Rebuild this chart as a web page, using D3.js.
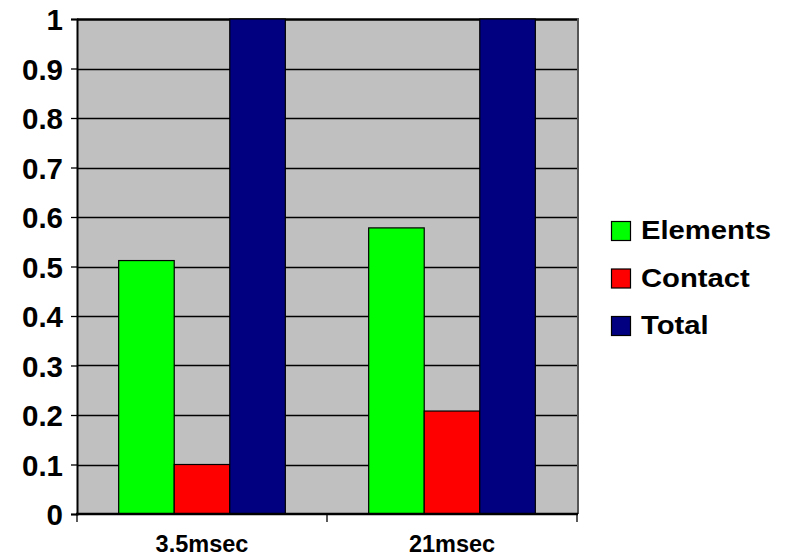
<!DOCTYPE html>
<html>
<head>
<meta charset="utf-8">
<script src="https://cdn.jsdelivr.net/npm/d3@7/dist/d3.min.js"></script>
<style>
  html, body { margin: 0; padding: 0; background: #ffffff; }
  svg { display: block; }
  text { font-family: "Liberation Sans", Arial, sans-serif; font-weight: bold; fill: #000; }
</style>
</head>
<body>
<svg id="chart" width="795" height="557"></svg>
<script>
// Timing categories and per-series normalized values
const categories = ["3.5msec", "21msec"];
const seriesNames = ["Elements", "Contact", "Total"];
const elementsValues = [0.512, 0.578];
const contactValues = [0.100, 0.208];
const totalValues = [1.0, 1.0];
const yTicks = [0, 0.1, 0.2, 0.3, 0.4, 0.5, 0.6, 0.7, 0.8, 0.9, 1];
const yTickLabels = ["0", "0.1", "0.2", "0.3", "0.4", "0.5", "0.6", "0.7", "0.8", "0.9", "1"];

const seriesValues = [elementsValues, contactValues, totalValues];
const colors = ["#00ff00", "#ff0000", "#000080"];

const svg = d3.select("#chart");
const plot = { left: 77, right: 577, top: 19, bottom: 514 };

const x0 = d3.scaleBand().domain(categories).range([plot.left, plot.right]).padding(0);
const x1 = d3.scaleBand().domain(seriesNames).range([0, x0.bandwidth()])
  .paddingInner(0).paddingOuter(0.75);
const y = d3.scaleLinear().domain([0, 1]).range([plot.bottom, plot.top]);

// Plot background
svg.append("rect")
  .attr("x", plot.left).attr("y", plot.top)
  .attr("width", plot.right - plot.left).attr("height", plot.bottom - plot.top)
  .attr("fill", "#c0c0c0");

// Horizontal gridlines
svg.append("g")
  .selectAll("line")
  .data(yTicks.filter(d => d > 0))
  .join("line")
  .attr("x1", plot.left).attr("x2", plot.right)
  .attr("y1", d => Math.round(y(d)) + 0.5).attr("y2", d => Math.round(y(d)) + 0.5)
  .attr("stroke", "#000").attr("stroke-width", d => d === 1 ? 2.5 : 1.3);

// Right plot border
svg.append("line")
  .attr("x1", plot.right + 1).attr("x2", plot.right + 1)
  .attr("y1", plot.top - 1).attr("y2", plot.bottom)
  .attr("stroke", "#555").attr("stroke-width", 2);

// Bars
const rows = [];
categories.forEach((c, ci) => {
  seriesNames.forEach((s, si) => {
    rows.push({ cat: c, series: s, value: seriesValues[si][ci], color: colors[si] });
  });
});

svg.append("g")
  .selectAll("rect")
  .data(rows)
  .join("rect")
  .attr("x", d => x0(d.cat) + x1(d.series))
  .attr("y", d => y(d.value))
  .attr("width", x1.bandwidth())
  .attr("height", d => y(0) - y(d.value))
  .attr("fill", d => d.color)
  .attr("stroke", "#000")
  .attr("stroke-width", 1.2);

// Y axis
const yAxis = d3.axisLeft(y)
  .tickValues(yTicks)
  .tickFormat((d, i) => yTickLabels[i])
  .tickSize(6)
  .tickPadding(8);
const gy = svg.append("g").attr("transform", `translate(${plot.left},0)`).call(yAxis);
gy.select(".domain").attr("stroke", "#000").attr("stroke-width", 2);
gy.selectAll(".tick line").attr("stroke", "#000").attr("stroke-width", 1.3);
gy.selectAll(".tick text")
  .attr("font-size", 29.5)
  .attr("font-family", "Liberation Sans, Arial, sans-serif")
  .attr("font-weight", "bold")
  .attr("fill", "#000")
  .attr("dy", "0.36em");

// X axis with tick marks at category boundaries
svg.append("line")
  .attr("x1", plot.left - 1).attr("x2", plot.right + 1)
  .attr("y1", plot.bottom).attr("y2", plot.bottom)
  .attr("stroke", "#000").attr("stroke-width", 2.5);

const boundaries = categories.map(c => x0(c)).concat([x0(categories[categories.length - 1]) + x0.bandwidth()]);
svg.append("g")
  .selectAll("line")
  .data(boundaries)
  .join("line")
  .attr("x1", d => d).attr("x2", d => d)
  .attr("y1", plot.bottom).attr("y2", plot.bottom + 8)
  .attr("stroke", "#000").attr("stroke-width", 1.3);

svg.append("g")
  .selectAll("text")
  .data(categories)
  .join("text")
  .attr("x", d => x0(d) + x0.bandwidth() / 2)
  .attr("y", 552)
  .attr("text-anchor", "middle")
  .attr("font-size", 23.5)
  .text(d => d);

// Legend
const legend = svg.append("g");
seriesNames.forEach((s, i) => {
  const ly = 221 + i * 47.5;
  legend.append("rect")
    .attr("x", 611.5).attr("y", ly + 0.5)
    .attr("width", 19).attr("height", 19)
    .attr("fill", colors[i])
    .attr("stroke", "#000").attr("stroke-width", 1.2);
  legend.append("text")
    .attr("transform", `translate(641,${ly + 18}) scale(1.17,1)`)
    .attr("font-size", 25)
    .text(s);
});
</script>
</body>
</html>
